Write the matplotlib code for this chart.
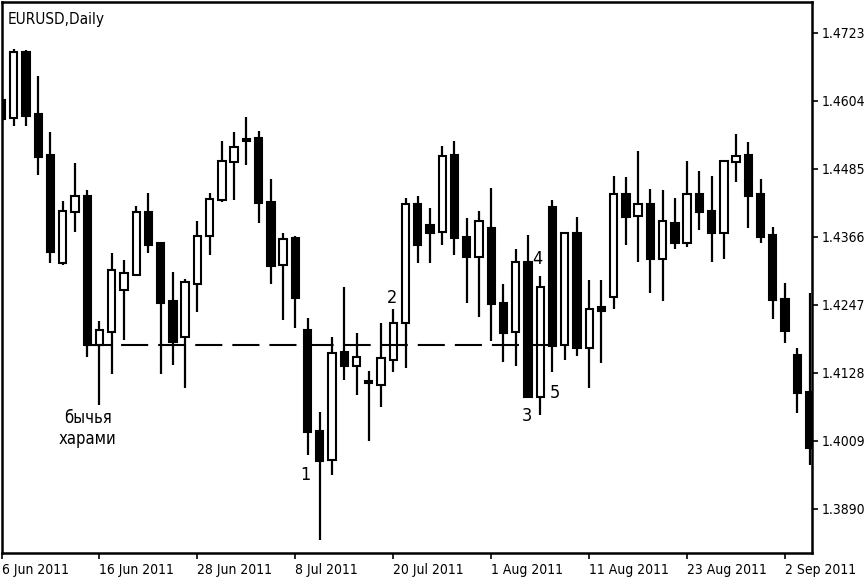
import numpy as np
import matplotlib
matplotlib.use("Agg")
import matplotlib.pyplot as plt
import matplotlib.transforms as mtransforms

plt.rcParams['font.family'] = ['DejaVu Sans']
plt.rcParams['font.stretch'] = 'condensed'

# EURUSD daily, 6 Jun 2011 - 6 Sep 2011
opens = [1.4605, 1.4573, 1.4689, 1.4580, 1.4509, 1.4320, 1.4409, 1.4437, 1.4176, 1.4199,
         1.4272, 1.4299, 1.4409, 1.4355, 1.4253, 1.4190, 1.4283, 1.4367, 1.4430, 1.4496,
         1.4537, 1.4538, 1.4426, 1.4316, 1.4363, 1.4202, 1.4026, 1.3975, 1.4164, 1.4139,
         1.4113, 1.4106, 1.4150, 1.4215, 1.4423, 1.4386, 1.4374, 1.4509, 1.4365, 1.4330,
         1.4381, 1.4250, 1.4199, 1.4321, 1.4085, 1.4418, 1.4176, 1.4372, 1.4171, 1.4243,
         1.4260, 1.4440, 1.4402, 1.4423, 1.4327, 1.4390, 1.4355, 1.4440, 1.4411, 1.4372,
         1.4496, 1.4509, 1.4440, 1.4369, 1.4257, 1.4159, 1.4094]
highs = [1.4610, 1.4694, 1.4692, 1.4647, 1.4549, 1.4428, 1.4495, 1.4447, 1.4218, 1.4337,
         1.4325, 1.4419, 1.4442, 1.4355, 1.4304, 1.4292, 1.4393, 1.4442, 1.4533, 1.4549,
         1.4575, 1.4551, 1.4467, 1.4372, 1.4367, 1.4223, 1.4059, 1.4190, 1.4278, 1.4197,
         1.4131, 1.4215, 1.4239, 1.4433, 1.4437, 1.4416, 1.4524, 1.4533, 1.4398, 1.4411,
         1.4451, 1.4283, 1.4344, 1.4369, 1.4297, 1.4430, 1.4374, 1.4400, 1.4290, 1.4290,
         1.4472, 1.4470, 1.4516, 1.4449, 1.4447, 1.4433, 1.4498, 1.4481, 1.4472, 1.4500,
         1.4545, 1.4531, 1.4467, 1.4383, 1.4285, 1.4171, 1.4267]
lows = [1.4568, 1.4559, 1.4559, 1.4474, 1.4320, 1.4316, 1.4374, 1.4155, 1.4071, 1.4125,
        1.4185, 1.4297, 1.4337, 1.4125, 1.4141, 1.4101, 1.4234, 1.4334, 1.4426, 1.4430,
        1.4491, 1.4390, 1.4283, 1.4220, 1.4206, 1.3984, 1.3835, 1.3949, 1.4115, 1.4089,
        1.4008, 1.4068, 1.4129, 1.4136, 1.4320, 1.4320, 1.4351, 1.4334, 1.4250, 1.4225,
        1.4183, 1.4146, 1.4139, 1.4085, 1.4054, 1.4129, 1.4150, 1.4157, 1.4101, 1.4145,
        1.4239, 1.4351, 1.4321, 1.4267, 1.4253, 1.4344, 1.4348, 1.4377, 1.4321, 1.4327,
        1.4461, 1.4381, 1.4355, 1.4222, 1.4180, 1.4057, 1.3966]
closes = [1.4572, 1.4689, 1.4577, 1.4505, 1.4339, 1.4411, 1.4437, 1.4176, 1.4202, 1.4307,
          1.4302, 1.4409, 1.4351, 1.4250, 1.4181, 1.4286, 1.4367, 1.4432, 1.4498, 1.4523,
          1.4533, 1.4425, 1.4314, 1.4362, 1.4258, 1.4024, 1.3973, 1.4162, 1.4139, 1.4155,
          1.4110, 1.4153, 1.4215, 1.4423, 1.4351, 1.4372, 1.4507, 1.4363, 1.4330, 1.4393,
          1.4248, 1.4197, 1.4321, 1.4085, 1.4278, 1.4174, 1.4372, 1.4171, 1.4239, 1.4236,
          1.4440, 1.4400, 1.4423, 1.4327, 1.4393, 1.4355, 1.4440, 1.4409, 1.4372, 1.4498,
          1.4507, 1.4437, 1.4365, 1.4255, 1.4201, 1.4092, 1.3996]

date_labels = ['6 Jun 2011', '16 Jun 2011', '28 Jun 2011', '8 Jul 2011', '20 Jul 2011',
               '1 Aug 2011', '11 Aug 2011', '23 Aug 2011', '2 Sep 2011']
price_ticks = [1.3890, 1.4009, 1.4128, 1.4247, 1.4366, 1.4485, 1.4604, 1.4723]
harami_level = 1.4176

o = np.array(opens)
h = np.array(highs)
l = np.array(lows)
c = np.array(closes)
x = np.arange(len(o))
up = c >= o

fig = plt.figure(figsize=(8.65, 5.84), dpi=100)
ax = fig.add_axes([1.5 / 865, 1 - 553 / 584, (812 - 1.5) / 865, (553 - 1.5) / 584])

# wicks then bodies
ax.vlines(x, l, h, color='black', lw=1.6, zorder=1)
bottoms = np.minimum(o, c)
heights = np.abs(c - o)
ax.bar(x, heights, bottom=bottoms, width=0.6,
       color=np.where(up, 'white', 'black'), edgecolor='black', linewidth=1.5, zorder=2)

# support level of the bullish harami
ax.plot([6.7, 45.6], [harami_level, harami_level], color='black', lw=1.5,
        ls=(0, (13, 4.8)), zorder=3)

ax.text(7.05, 1.4049, 'бычья', ha='center', va='center', fontsize=12)
ax.text(7.05, 1.4012, 'харами', ha='center', va='center', fontsize=12)
ax.text(24.8, 1.3949, '1', ha='center', va='center', fontsize=13)
ax.text(31.9, 1.4258, '2', ha='center', va='center', fontsize=13)
ax.text(42.9, 1.4052, '3', ha='center', va='center', fontsize=13)
ax.text(43.8, 1.4327, '4', ha='center', va='center', fontsize=13)
ax.text(45.2, 1.4092, '5', ha='center', va='center', fontsize=13)

ax.text(0.008, 0.968, 'EURUSD,Daily', transform=ax.transAxes, ha='left', va='center',
        fontsize=11)

ax.set_xlim(0.04, 66.2)
ax.set_ylim(1.38122, 1.47773)

ax.set_xticks(np.arange(0, len(o), 8))
ax.set_xticklabels(date_labels, ha='left', fontsize=10)
offset = mtransforms.ScaledTranslation(-3 / 100, 0, fig.dpi_scale_trans)
for lab in ax.get_xticklabels():
    lab.set_transform(lab.get_transform() + offset)

ax.yaxis.tick_right()
ax.set_yticks(price_ticks)
ax.set_yticklabels(['%.4f' % p for p in price_ticks], fontsize=10)
ax.tick_params(axis='both', direction='out', length=4, width=1.2, pad=3)

for s in ax.spines.values():
    s.set_linewidth(1.8)

fig.savefig('out.png', dpi=100)
